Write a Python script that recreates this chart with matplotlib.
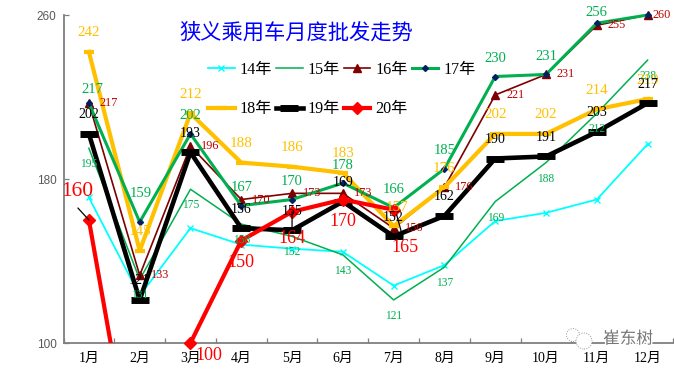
import numpy as np
import matplotlib
matplotlib.use('Agg')
import matplotlib.pyplot as plt
from matplotlib.patches import Circle
from matplotlib.transforms import offset_copy
import matplotlib.patheffects as pe

plt.rcParams['font.family'] = ['Liberation Serif', 'Noto Sans CJK SC']

months = ['1月', '2月', '3月', '4月', '5月', '6月', '7月', '8月', '9月', '10月', '11月', '12月']
y14 = [171, 123, 156, 148, 146, 144.5, 128, 138, 159.5, 163.5, 170, 197]
y15 = [195, 131, 175, 158, 152, 143, 121, 137, 169, 188, 212, 238]
y16 = [217, 133, 196, 170, 173, 173, 156, 176, 221, 231, 255, 260]
y17 = [217, 159, 202, 167, 170, 178, 166, 185, 230, 231, 256, 260]
y18 = [242, 145, 212, 188, 186, 183, 157, 176, 202, 202, 214, 219]
y19 = [202, 121, 193, 156, 155, 169, 152, 162, 190, 191, 203, 217]
y20 = [160, 20, 100, 150, 164, 170, 165]

GREEN = '#00B050'
GOLD = '#FFC000'
DARKRED = '#7F0000'
W, H = 674, 369

fig = plt.figure(figsize=(W / 100, H / 100), dpi=100)
ax = fig.add_axes([63.5 / W, (H - 343) / H, (673 - 63.5) / W, 328 / H])
x = np.arange(12)

h14, = ax.plot(x, y14, color='#00FFFF', lw=1.3, marker='x', ms=4, mew=1, clip_on=False, zorder=2, label='14年')
h15, = ax.plot(x, y15, color=GREEN, lw=1.1, clip_on=False, zorder=2.1, label='15年')
h16, = ax.plot(x, y16, color=DARKRED, lw=1.2, marker='^', ms=5.5, clip_on=False, zorder=2.2, label='16年')
h17, = ax.plot(x, y17, color=GREEN, lw=2.2, marker='D', ms=3, mfc='#002060', mec='#002060', clip_on=False, zorder=2.5, label='17年')
h18, = ax.plot(x, y18, color=GOLD, lw=3, marker='_', ms=7, mew=3, clip_on=False, zorder=2.4, label='18年')
h19, = ax.plot(x, y19, color='black', lw=3.3, marker='_', ms=13, mew=5, clip_on=False, zorder=2.6, label='19年')

# 2月 of 20 falls off the bottom, so the line is clipped but the other markers are not
x20 = x[:len(y20)]
ax.plot(x20, y20, color='red', lw=3, zorder=2.8)
shown = np.array(y20, dtype=float)
shown[shown < 100] = np.nan
ax.plot(x20, shown, ls='none', color='red', marker='D', ms=6, clip_on=False, zorder=2.8)
h20, = ax.plot([], [], color='red', lw=3, marker='D', ms=6, label='20年')

ax.set_xlim(-0.5, 11.5)
ax.set_ylim(100, 260)
ax.set_yticks([100, 180, 260])
ax.set_xticks(np.arange(-0.5, 12))
ax.set_xticklabels([])
ax.tick_params(axis='both', direction='in', length=3.5, width=0.9, color='#7F7F7F', pad=5)
ax.tick_params(axis='y', labelcolor='#595959', labelsize=8.5)
for lab in ax.get_yticklabels():
    lab.set_family('Liberation Sans')
for side in ['top', 'right']:
    ax.spines[side].set_visible(False)
for side in ['left', 'bottom']:
    ax.spines[side].set_color('#7F7F7F')
    ax.spines[side].set_linewidth(1.3)
for i, m in enumerate(months):
    ax.annotate(m, (i, 100), xytext=(0, -15), textcoords='offset pixels', ha='center', va='center',
                fontsize=10, color='black', annotation_clip=False)


def put_labels(xs, vals, color, size, default, moved={}, skip=()):
    # offsets are screen pixels from the point, moved holds the exceptions
    for i in xs:
        if i in skip:
            continue
        off = moved.get(i, default)
        ax.annotate(str(vals[i]), (i, vals[i]), xytext=off, textcoords='offset pixels', ha='center',
                    va='center', fontsize=size, color=color, zorder=5, annotation_clip=False)


put_labels(x, y15, GREEN, 8.3, (0, -16))
put_labels(x, y16, '#C00000', 8.8, (20, 0), {11: (14, 0)})
put_labels(x, y17, GREEN, 10.5, (0, 18), {0: (3, 14), 1: (1, 29), 10: (0, 11)}, skip=(11,))
put_labels(x, y18, GOLD, 10.8, (0, 19), {6: (3, 19)})
put_labels(x, y19, 'black', 10, (0, 19))
put_labels(x20, y20, 'red', 13, (0, -22), {2: (18, -13), 4: (0, -27), 6: (11, -38)}, skip=(0, 1))
ax.annotate('160', (0, 160), xytext=(-12, 28), textcoords='offset pixels', ha='center', va='center',
            fontsize=15.5, color='red', zorder=5, annotation_clip=False)

# leader lines from moved labels
for i, end, start in [(0, (0, 0), (-11, 12)), (4, (0, 0), (0, -17)), (6, (9, -27), (3, -5))]:
    ax.annotate('', (i, y20[i]), xycoords=offset_copy(ax.transData, fig=fig, x=end[0], y=end[1], units='dots'),
                xytext=(i, y20[i]), textcoords=offset_copy(ax.transData, fig=fig, x=start[0], y=start[1], units='dots'),
                arrowprops=dict(arrowstyle='-', color='black', lw=0.9, shrinkA=0, shrinkB=0),
                zorder=4, annotation_clip=False)

fig.text(296 / W, (H - 33) / H, '狭义乘用车月度批发走势', color='#0000FF', fontsize=15.3,
         family='Noto Sans CJK SC', ha='center', va='center')

handles = [h14, h18, h15, h19, h16, h20, h17]
fig.legend(handles=handles, labels=[h.get_label() for h in handles], ncols=4, frameon=False, fontsize=11.6,
           handlelength=1.65, handletextpad=0.3, columnspacing=0.26, labelspacing=1.45, numpoints=1,
           loc='upper left', bbox_to_anchor=(208 / W, (H - 62) / H), borderpad=0, borderaxespad=0)

# watermark in the corner
for cx, cy, r in [(573, 335, 6.5), (584, 341, 8)]:
    fig.add_artist(Circle((cx / 100, (H - cy) / 100), r / 100, transform=fig.dpi_scale_trans, fc='white',
                          ec='#999999', lw=0.7, ls=(0, (1, 1.5)), zorder=6))
fig.text(628 / W, (H - 339) / H, '崔东树', color='#777777', fontsize=12, family='Noto Sans CJK SC',
         ha='center', va='center', zorder=7, path_effects=[pe.withStroke(linewidth=2, foreground='white')])

fig.savefig('out.png', dpi=100)
